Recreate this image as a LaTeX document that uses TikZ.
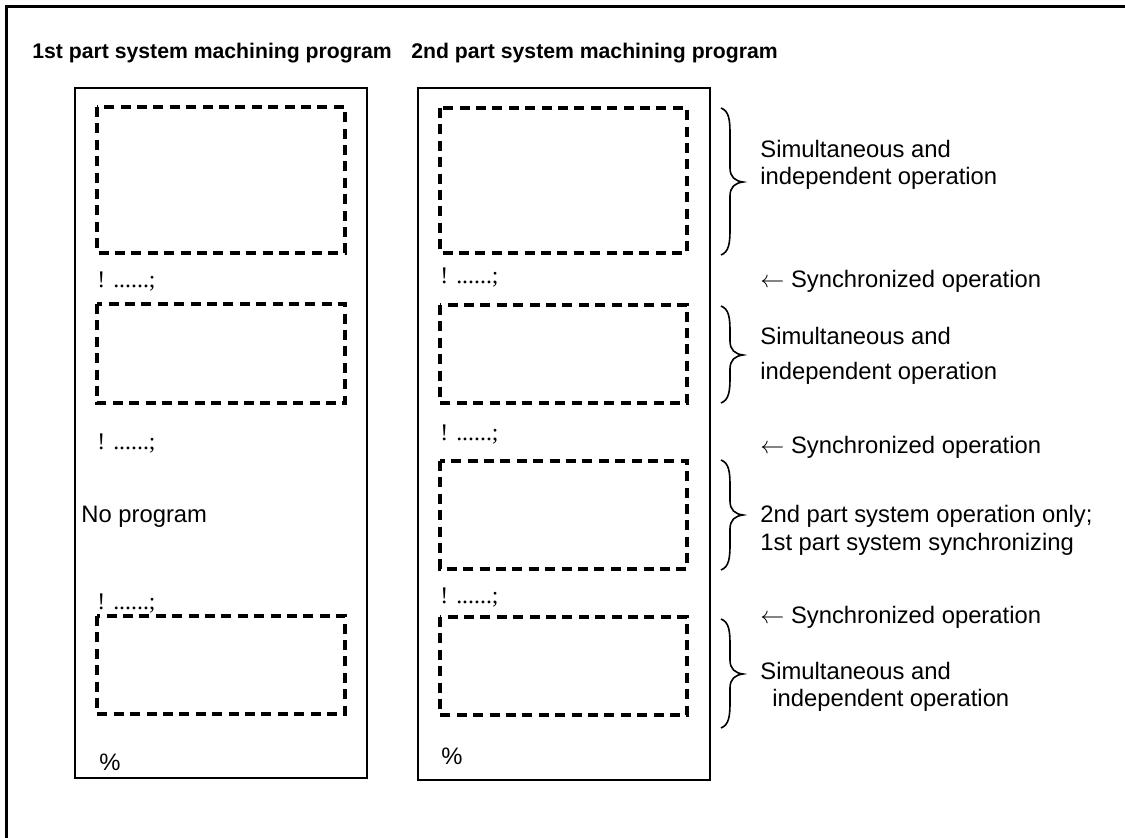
\documentclass[tikz,border=0pt]{standalone}
\usepackage{fontspec}
\setmainfont{Liberation Sans}
\newfontfamily\codefont{Liberation Serif}

% curly brace: top, tip, bottom (pixel rows)
\newcommand{\opbrace}[3]{%
  \draw[brc] (721,#1) .. controls (729,#1+3) and (730,#1+12) .. (730,#1+26)
    -- (730,#2-14) .. controls (730,#2-5) and (735,#2-1) .. (743,#2)
    .. controls (735,#2+1) and (730,#2+5) .. (730,#2+14)
    -- (730,#3-26) .. controls (730,#3-12) and (729,#3-3) .. (721,#3);}

\begin{document}
\begin{tikzpicture}[x=0.5pt,y=-0.5pt,
    txt/.style={anchor=base west,inner sep=0pt,font=\fontsize{11.9}{14}\selectfont},
    code/.style={anchor=base west,inner sep=0pt,font={\codefont\fontsize{11.9}{14}\selectfont}},
    hdr/.style={anchor=base west,inner sep=0pt,font={\bfseries\fontsize{10.6}{13}\selectfont}},
    frame/.style={line width=1.5pt},
    prog/.style={line width=1.2pt},
    blk/.style={line width=1.8pt,dash pattern=on 5pt off 3.2pt},
    brc/.style={line width=0.8pt}]
\useasboundingbox (0,0) rectangle (1125,838);
\draw[frame] (1125,7) -- (6,7) -- (6,838);

\node[hdr] (hdrA) at (32,59) {1st part system machining program};
\node[hdr] (hdrB) at (411,59) {2nd part system machining program};

% 1st part system
\draw[prog] (75,88) rectangle (367,778);
\draw[blk] (97,107) rectangle (345,253);
\node[code] (excA1) at (97,288) {! ......;};
\draw[blk] (97,304) rectangle (345,403);
\node[code] (excA2) at (97,450) {! ......;};
\node[txt] (noprog) at (81,523) {No program};
\node[code] (excA3) at (97,610) {! ......;};
\draw[blk] (97,616) rectangle (345,714);
\node[txt] (endA) at (99,771) {\%};

% 2nd part system
\draw[prog] (418,88) rectangle (710,780);
\draw[blk] (440,108) rectangle (687,253);
\node[code] (excB1) at (440,284) {! ......;};
\draw[blk] (440,305) rectangle (687,403);
\node[code] (excB2) at (440,441) {! ......;};
\draw[blk] (440,461) rectangle (687,569);
\node[code] (excB3) at (440,604) {! ......;};
\draw[blk] (440,617) rectangle (687,715);
\node[txt] (endB) at (441,765) {\%};

% notes
\opbrace{108}{182}{255}
\node[txt] (simA) at (760,158) {Simultaneous and};
\node[txt] (indA) at (760,185) {independent operation};
\node[txt] (syncA) at (760,288) {$\leftarrow$ Synchronized operation};
\opbrace{306}{355}{403}
\node[txt] (simB) at (760,345) {Simultaneous and};
\node[txt] (indB) at (760,380) {independent operation};
\node[txt] (syncB) at (760,454) {$\leftarrow$ Synchronized operation};
\opbrace{460}{515}{570}
\node[txt] (only) at (760,523) {2nd part system operation only;};
\node[txt] (wait) at (760,551) {1st part system synchronizing};
\node[txt] (syncC) at (760,624) {$\leftarrow$ Synchronized operation};
\opbrace{619}{674}{728}
\node[txt] (simC) at (760,680) {Simultaneous and};
\node[txt] (indC) at (772,707) {independent operation};
\end{tikzpicture}
\end{document}
